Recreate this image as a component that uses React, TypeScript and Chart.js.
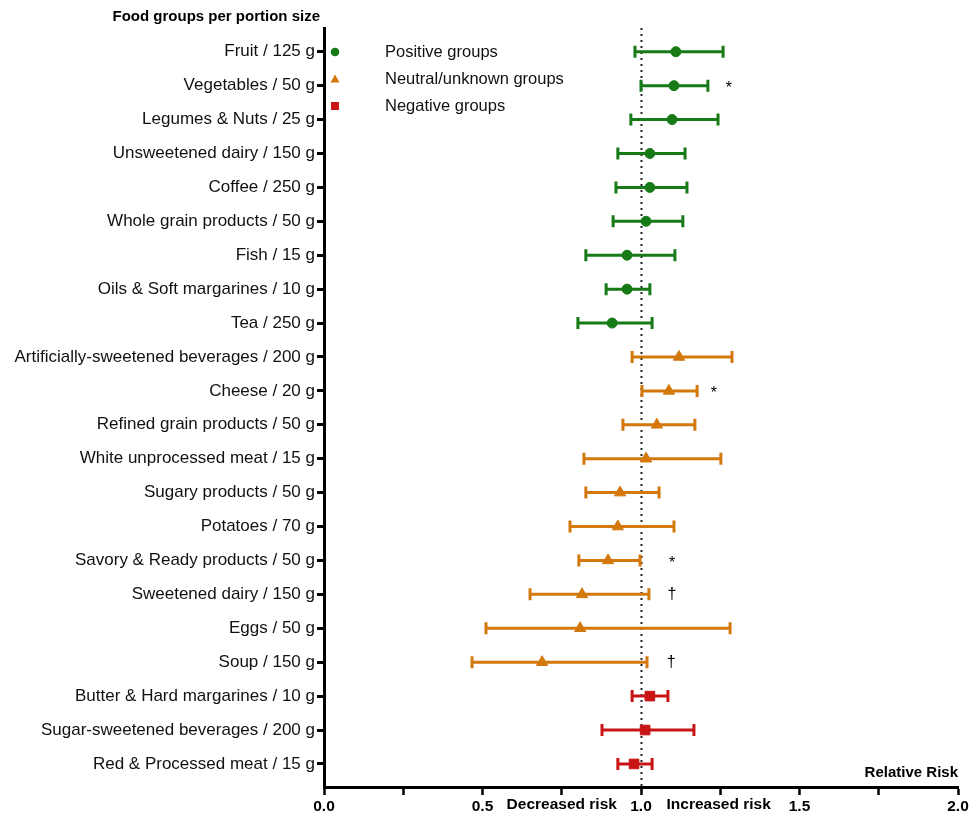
import React, { useEffect, useRef } from 'react';
import { Chart, registerables } from 'chart.js';

Chart.register(...registerables);

const categories = [
  'Fruit / 125 g',
  'Vegetables / 50 g',
  'Legumes & Nuts / 25 g',
  'Unsweetened dairy / 150 g',
  'Coffee / 250 g',
  'Whole grain products / 50 g',
  'Fish / 15 g',
  'Oils & Soft margarines / 10 g',
  'Tea / 250 g',
  'Artificially-sweetened beverages / 200 g',
  'Cheese / 20 g',
  'Refined grain products / 50 g',
  'White unprocessed meat / 15 g',
  'Sugary products / 50 g',
  'Potatoes / 70 g',
  'Savory & Ready products / 50 g',
  'Sweetened dairy / 150 g',
  'Eggs / 50 g',
  'Soup / 150 g',
  'Butter & Hard margarines / 10 g',
  'Sugar-sweetened beverages / 200 g',
  'Red & Processed meat / 15 g',
];

const estimates = [1.110, 1.104, 1.098, 1.028, 1.028, 1.016, 0.956, 0.956, 0.909, 1.120, 1.088, 1.050, 1.016, 0.934, 0.927, 0.896, 0.814, 0.808, 0.688, 1.028, 1.013, 0.978];
const lowerCI = [0.981, 1.000, 0.968, 0.927, 0.921, 0.912, 0.826, 0.890, 0.801, 0.972, 1.003, 0.943, 0.820, 0.826, 0.776, 0.804, 0.650, 0.511, 0.467, 0.972, 0.877, 0.927];
const upperCI = [1.259, 1.211, 1.243, 1.139, 1.145, 1.132, 1.107, 1.028, 1.035, 1.287, 1.177, 1.170, 1.252, 1.057, 1.104, 0.997, 1.025, 1.281, 1.019, 1.085, 1.167, 1.035];
// 0 = positive, 1 = neutral/unknown, 2 = negative
const groupOf = [0, 0, 0, 0, 0, 0, 0, 0, 0, 1, 1, 1, 1, 1, 1, 1, 1, 1, 1, 2, 2, 2];

const groupNames = ['Positive groups', 'Neutral/unknown groups', 'Negative groups'];
const groupColors = ['#167a16', '#d4780c', '#c81414'];
const groupStyles = ['circle', 'triangle', 'rect'];
const groupRadius = [5, 6.5, 6.8];

const markRows = [1, 10, 15, 16, 18];
const markSymbols = ['*', '*', '*', '†', '†'];
const markX = [1.277, 1.23, 1.098, 1.098, 1.095];

const xTickLabelStep = 0.5;

const FONT = "'Liberation Sans', Arial, Helvetica, sans-serif";

const refLinePlugin = {
  id: 'refLine',
  beforeDatasetsDraw(chart: any) {
    const { ctx, chartArea, scales } = chart;
    const x = scales.x;
    const y = scales.y;
    ctx.save();
    // dotted reference line at RR = 1
    const px = Math.round(x.getPixelForValue(1)) + 0.5;
    ctx.strokeStyle = '#222';
    ctx.lineWidth = 2;
    ctx.setLineDash([2, 4]);
    ctx.beginPath();
    ctx.moveTo(px, chartArea.top);
    ctx.lineTo(px, chartArea.bottom);
    ctx.stroke();
    ctx.setLineDash([]);
    // error bars
    ctx.lineWidth = 3;
    categories.forEach((_, i) => {
      const yy = y.getPixelForValue(i);
      const x1 = x.getPixelForValue(lowerCI[i]);
      const x2 = x.getPixelForValue(upperCI[i]);
      ctx.strokeStyle = groupColors[groupOf[i]];
      ctx.beginPath();
      ctx.moveTo(x1, yy);
      ctx.lineTo(x2, yy);
      ctx.moveTo(x1, yy - 6);
      ctx.lineTo(x1, yy + 6);
      ctx.moveTo(x2, yy - 6);
      ctx.lineTo(x2, yy + 6);
      ctx.stroke();
    });
    ctx.restore();
  },
  afterDraw(chart: any) {
    const { ctx, chartArea, scales } = chart;
    const x = scales.x;
    const y = scales.y;
    ctx.save();
    // significance marks
    ctx.fillStyle = '#000';
    ctx.font = `16px ${FONT}`;
    ctx.textAlign = 'center';
    ctx.textBaseline = 'middle';
    markRows.forEach((r, k) => {
      ctx.fillText(markSymbols[k], x.getPixelForValue(markX[k]), y.getPixelForValue(r) + (markSymbols[k] === '*' ? 3 : 0));
    });
    // title
    ctx.font = `bold 15px ${FONT}`;
    ctx.textAlign = 'right';
    ctx.fillText('Food groups per portion size', chartArea.left - 4, 17);
    // Relative Risk
    ctx.textAlign = 'right';
    ctx.fillText('Relative Risk', chartArea.right, chartArea.bottom - 14);
    // Decreased / Increased risk
    ctx.font = `bold 15.5px ${FONT}`;
    ctx.textAlign = 'center';
    const ly = chartArea.bottom + 18;
    ctx.fillText('Decreased risk', x.getPixelForValue(0.75), ly);
    ctx.fillText('Increased risk', x.getPixelForValue(1.245), ly);
    // legend
    ctx.font = `16.5px ${FONT}`;
    ctx.textAlign = 'left';
    groupNames.forEach((name, g) => {
      const ly2 = chartArea.top + 24 + g * 27;
      const lx = chartArea.left + 11;
      ctx.fillStyle = groupColors[g];
      if (g === 0) {
        ctx.beginPath();
        ctx.arc(lx, ly2, 4.3, 0, Math.PI * 2);
        ctx.fill();
      } else if (g === 1) {
        ctx.beginPath();
        ctx.moveTo(lx, ly2 - 4.5);
        ctx.lineTo(lx + 4.5, ly2 + 3.5);
        ctx.lineTo(lx - 4.5, ly2 + 3.5);
        ctx.closePath();
        ctx.fill();
      } else {
        ctx.fillRect(lx - 4, ly2 - 4, 8, 8);
      }
      ctx.fillStyle = '#111';
      ctx.fillText(name, chartArea.left + 61, ly2);
    });
    ctx.restore();
  },
};

export default function App() {
  const canvasRef = useRef<HTMLCanvasElement | null>(null);

  useEffect(() => {
    if (!canvasRef.current) return;
    const datasets = groupNames.map((name, g) => ({
      label: name,
      data: categories
        .map((_, i) => ({ x: estimates[i], y: i, g: groupOf[i] }))
        .filter((p) => p.g === g)
        .map((p) => ({ x: p.x, y: p.y })),
      pointStyle: groupStyles[g],
      pointRadius: groupRadius[g],
      pointHoverRadius: groupRadius[g],
      backgroundColor: groupColors[g],
      borderColor: groupColors[g],
      pointBorderWidth: 1,
      showLine: false,
    }));

    const chart = new Chart(canvasRef.current, {
      type: 'scatter',
      data: { datasets: datasets as any },
      plugins: [refLinePlugin],
      options: {
        animation: false,
        responsive: false,
        maintainAspectRatio: false,
        layout: { padding: { top: 28, right: 22, left: 0, bottom: 0 } },
        plugins: {
          legend: { display: false },
          tooltip: { enabled: false },
          title: { display: false },
        },
        scales: {
          x: {
            type: 'linear',
            min: 0,
            max: 2,
            afterFit: (s: any) => {
              s.height = 31;
            },
            ticks: {
              stepSize: 0.25,
              autoSkip: false,
              maxRotation: 0,
              padding: 2,
              color: '#000',
              font: { family: FONT, size: 15.5, weight: 'bold' },
              callback: (v: any) => {
                const n = Number(v);
                const r = n / xTickLabelStep;
                return Math.abs(r - Math.round(r)) < 1e-6 ? n.toFixed(1) : '';
              },
            },
            grid: {
              drawOnChartArea: false,
              drawTicks: true,
              tickLength: 8,
              tickWidth: 2.5,
              tickColor: '#000',
            },
            border: { display: true, color: '#000', width: 3 },
          },
          y: {
            type: 'linear',
            min: -0.7,
            max: categories.length - 1 + 0.68,
            reverse: true,
            afterFit: (s: any) => {
              s.width = 324;
            },
            afterBuildTicks: (s: any) => {
              s.ticks = categories.map((_, i) => ({ value: i }));
            },
            ticks: {
              autoSkip: false,
              padding: 2,
              color: '#111',
              font: { family: FONT, size: 17 },
              callback: (v: any) => categories[Math.round(Number(v))] ?? '',
            },
            grid: {
              drawOnChartArea: false,
              drawTicks: true,
              tickLength: 7,
              tickWidth: 3,
              tickColor: '#000',
            },
            border: { display: true, color: '#000', width: 3 },
          },
        },
      },
    });
    return () => chart.destroy();
  }, []);

  return (
    <div style={{ position: 'fixed', left: 0, top: 0, width: 980, height: 818, background: '#fff' }}>
      <canvas ref={canvasRef} width={980} height={818} style={{ width: 980, height: 818 }} />
    </div>
  );
}
